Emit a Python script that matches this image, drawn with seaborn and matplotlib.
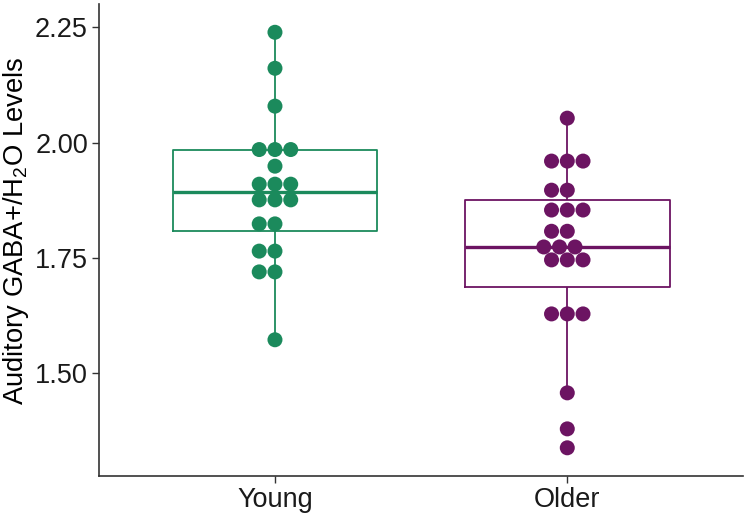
import numpy as np
import pandas as pd
import matplotlib
matplotlib.use("Agg")
import matplotlib.pyplot as plt
import seaborn as sns

# values
young = [2.239, 2.161, 2.079, 1.985, 1.985, 1.985, 1.949, 1.910, 1.910, 1.910,
         1.876, 1.876, 1.876, 1.824, 1.824, 1.765, 1.765, 1.720, 1.720, 1.573]
older = [2.053, 1.960, 1.960, 1.960, 1.897, 1.897, 1.854, 1.854, 1.854, 1.808,
         1.808, 1.774, 1.774, 1.774, 1.746, 1.746, 1.746, 1.629, 1.629, 1.629,
         1.458, 1.380, 1.339]
groups = ["Young", "Older"]
colors = ["#1b8a5c", "#6c1462"]

df = pd.DataFrame({
    "group": ["Young"] * len(young) + ["Older"] * len(older),
    "gaba": young + older,
})

sns.set_style("white")
plt.rcParams["font.family"] = ["Liberation Sans", "DejaVu Sans"]
plt.rcParams["mathtext.default"] = "regular"

fig = plt.figure(figsize=(7.5, 5.14), dpi=100)
ax = fig.add_axes([0.132, 0.074, 0.859, 0.918])

sns.boxplot(data=df, x="group", y="gaba", hue="group",
            order=groups, hue_order=groups, palette=colors, fill=False,
            width=0.7, showfliers=False, showcaps=False, linewidth=1.3,
            medianprops={"linewidth": 2.4}, legend=False, ax=ax)
sns.swarmplot(data=df, x="group", y="gaba", hue="group", order=groups,
              hue_order=groups, palette=colors, size=10.8, linewidth=0,
              legend=False, ax=ax, zorder=3)

ax.set_xlim(-0.602, 1.602)
ax.set_ylim(1.278, 2.300)
ax.set_yticks([1.50, 1.75, 2.00, 2.25])
ax.set_yticklabels(["1.50", "1.75", "2.00", "2.25"])
ax.set_xlabel("")
ax.set_ylabel("Auditory GABA+/H$_2$O Levels", fontsize=19.7, color="black")
ax.yaxis.set_label_coords(-0.105, 0.519)
ax.tick_params(axis="both", labelsize=19.5, labelcolor="#1a1a1a", length=5,
               width=1, color="#333333", left=True, bottom=True, pad=3)
for s in ["top", "right"]:
    ax.spines[s].set_visible(False)
for s in ["left", "bottom"]:
    ax.spines[s].set_color("#333333")
    ax.spines[s].set_linewidth(1.2)

fig.savefig("out.png", dpi=100)
